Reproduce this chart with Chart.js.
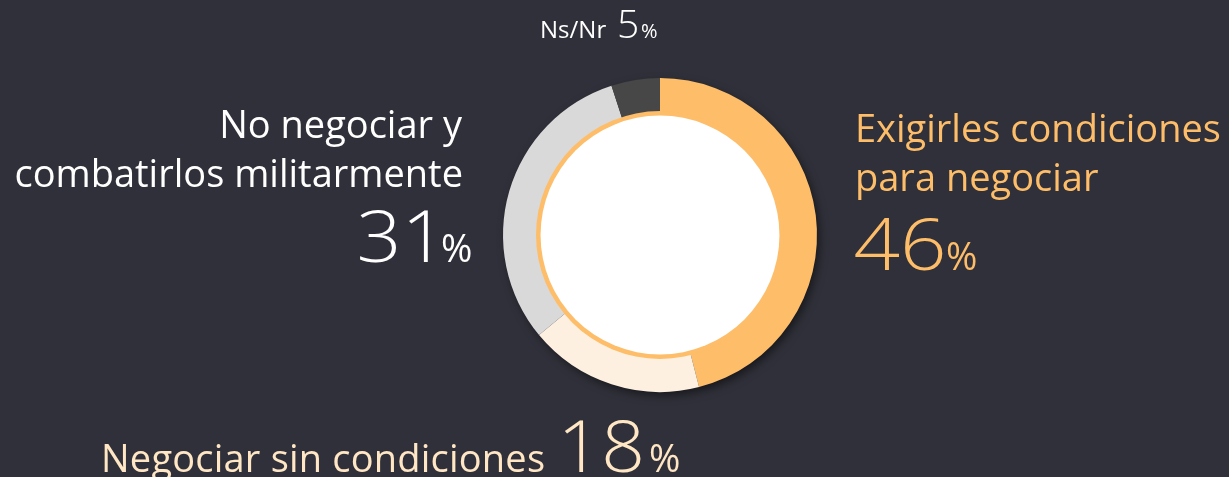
<!DOCTYPE html>
<html>
<head>
<meta charset="utf-8">
<script src="https://cdn.jsdelivr.net/npm/chart.js@4/dist/chart.umd.min.js"></script>
<style>
  html, body { margin:0; padding:0; background:#30303A; }
  #wrap { position:relative; width:1229px; height:477px; overflow:hidden; background:#30303A; }
  #c { position:absolute; left:0; top:0; }
  #labels { position:absolute; left:0; top:0; }
  text { font-family: "Open Sans", "DejaVu Sans", sans-serif; }
</style>
</head>
<body>
<div id="wrap">
  <canvas id="c" width="1229" height="477"></canvas>
  <svg id="labels" width="1229" height="477" xmlns="http://www.w3.org/2000/svg"></svg>
</div>
<script>
// ---- data ----
const categories = ['Exigirles condiciones para negociar', 'Negociar sin condiciones', 'No negociar y combatirlos militarmente', 'Ns/Nr'];
const labelLines = [['Exigirles condiciones', 'para negociar'], ['Negociar sin condiciones'], ['No negociar y', 'combatirlos militarmente'], ['Ns/Nr']];
const values = [46, 18, 31, 5];

// ---- styles ----
const segColors = ['#FDBD69', '#FEF0E0', '#D9D9D9', '#474747'];
const textColors = ['#FDBD69', '#FFE6C4', '#FFFFFF', '#FFFFFF'];
const BG = '#30303A';

const ringDecor = {
  id: 'ringDecor',
  beforeDatasetsDraw(chart) {
    const arc = chart.getDatasetMeta(0).data[0];
    if (!arc) return;
    const ctx = chart.ctx;
    ctx.save();
    ctx.shadowColor = 'rgba(0,0,0,0.55)';
    ctx.shadowBlur = 10;
    ctx.shadowOffsetX = 3;
    ctx.shadowOffsetY = 4;
    ctx.fillStyle = BG;
    ctx.beginPath();
    ctx.arc(arc.x, arc.y, arc.outerRadius - 1, 0, Math.PI * 2);
    ctx.fill();
    ctx.restore();
  },
  afterDatasetsDraw(chart) {
    const arc = chart.getDatasetMeta(0).data[0];
    if (!arc) return;
    const ctx = chart.ctx;
    const r = arc.innerRadius;
    ctx.save();
    ctx.fillStyle = segColors[0];
    ctx.beginPath();
    ctx.arc(arc.x, arc.y, r + 1.5, 0, Math.PI * 2);
    ctx.fill();
    ctx.fillStyle = '#FFFFFF';
    ctx.beginPath();
    ctx.arc(arc.x, arc.y, r - 3, 0, Math.PI * 2);
    ctx.fill();
    ctx.restore();
  }
};

new Chart(document.getElementById('c'), {
  type: 'doughnut',
  data: {
    labels: categories,
    datasets: [{
      data: values,
      backgroundColor: segColors,
      borderWidth: 0
    }]
  },
  options: {
    responsive: false,
    animation: false,
    cutout: '78%',
    layout: { padding: { left: 503, right: 412, top: 78, bottom: 85 } },
    plugins: { legend: { display: false }, tooltip: { enabled: false } }
  },
  plugins: [ringDecor]
});

// ---- labels (real text, SVG) ----
const svg = document.getElementById('labels');
const NS = 'http://www.w3.org/2000/svg';
function addText(x, y, anchor, str, size, color, weight, sx, len) {
  const t = document.createElementNS(NS, 'text');
  t.setAttribute('text-anchor', anchor);
  t.setAttribute('fill', color);
  t.setAttribute('font-size', size);
  if (weight) t.setAttribute('font-weight', weight);
  if (sx) {
    t.setAttribute('x', 0); t.setAttribute('y', 0);
    t.setAttribute('transform', `translate(${x},${y}) scale(${sx},1)`);
  } else {
    t.setAttribute('x', x); t.setAttribute('y', y);
  }
  if (len) { t.setAttribute('textLength', len); t.setAttribute('lengthAdjust', 'spacing'); }
  t.textContent = str;
  svg.appendChild(t);
}
const TXT = 38, BIG = 71;
// index 0 - right
addText(855, 142, 'start', labelLines[0][0], TXT, textColors[0]);
addText(855, 191, 'start', labelLines[0][1], TXT, textColors[0]);
addText(853.5, 270, 'start', String(values[0]), BIG, textColors[0], 300, 1.15);
addText(946, 270, 'start', '%', TXT, textColors[0]);
// index 1 - bottom
addText(101, 472, 'start', labelLines[1][0], TXT, textColors[1], null, null, 444);
addText(557.5, 472, 'start', String(values[1]), BIG, textColors[1], 300, 1.08);
addText(649, 472, 'start', '%', TXT, textColors[1]);
// index 2 - left
addText(462, 138, 'end', labelLines[2][0], TXT, textColors[2]);
addText(463, 187, 'end', labelLines[2][1], TXT, textColors[2]);
addText(356.5, 262, 'start', String(values[2]), BIG, textColors[2], 300, 1.11);
addText(441, 262, 'start', '%', TXT, textColors[2]);
// index 3 - top
addText(540, 38, 'start', labelLines[3][0], 24, textColors[3]);
addText(617, 38, 'start', String(values[3]), 39, textColors[3], 300);
addText(641, 38, 'start', '%', 20, textColors[3]);
</script>
</body>
</html>
